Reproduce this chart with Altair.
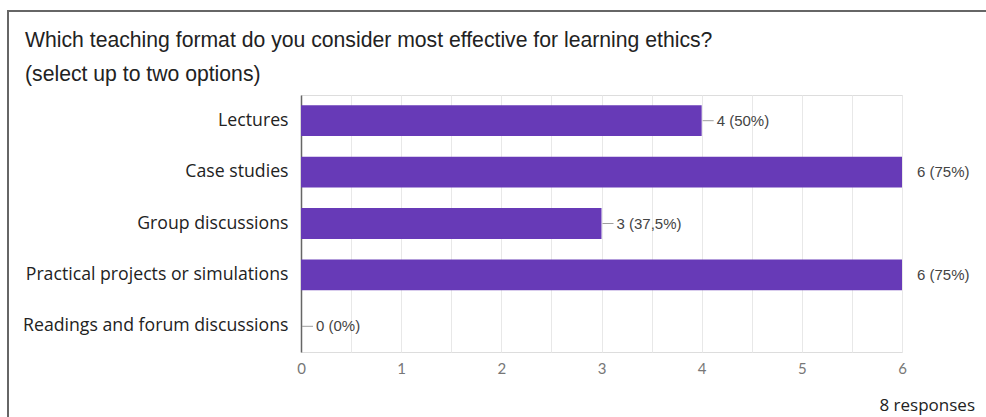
import altair as alt
import pandas as pd

categories = ["Lectures", "Case studies", "Group discussions",
              "Practical projects or simulations", "Readings and forum discussions"]
counts = [4, 6, 3, 6, 0]
labels = ["4 (50%)", "6 (75%)", "3 (37,5%)", "6 (75%)", "0 (0%)"]
x_ticks = [0, 0.5, 1, 1.5, 2, 2.5, 3, 3.5, 4, 4.5, 5, 5.5, 6]
title_line1 = "Which teaching format do you consider most effective for learning ethics?"
title_line2 = "(select up to two options)"
footer = "8 responses"

df = pd.DataFrame({"cat": categories, "n": counts, "label": labels})

PURPLE = "#673ab7"

y_enc = alt.Y("cat:N", sort=categories, title=None,
              scale=alt.Scale(paddingInner=0.4, paddingOuter=0.2),
              axis=alt.Axis(labelFont="Open Sans", labelFontSize=17.7, labelColor="#222",
                            labelPadding=13, ticks=False, domainColor="#666",
                            domainWidth=1.5, labelLimit=400))
x_enc = alt.X("n:Q", title=None, scale=alt.Scale(domain=[0, 6], nice=False),
              axis=alt.Axis(values=x_ticks,
                            labelExpr="datum.value % 1 == 0 ? format(datum.value, 'd') : ''",
                            labelFont="Lato", labelFontSize=15, labelColor="#777",
                            labelPadding=9, ticks=False, domain=False, labelFlush=False,
                            labelOverlap=False, gridColor="#e8e8e8", grid=True))

base = alt.Chart(df)

bars = base.transform_filter("datum.n > 0").mark_bar(color=PURPLE).encode(x=x_enc, y=y_enc)

lines = base.transform_filter("datum.n < 6").mark_rule(
    color="#9e9e9e", strokeWidth=1, xOffset=1, x2Offset=12
).encode(x="n:Q", x2="n:Q", y=alt.Y("cat:N", sort=categories, bandPosition=0.5))

texts = base.mark_text(align="left", baseline="middle", dx=15, font="Liberation Sans",
                       fontSize=15, color="#444").encode(
    x="n:Q", y=alt.Y("cat:N", sort=categories), text="label:N")

frame_df = pd.DataFrame({"k": [0]})
left_border = alt.Chart(frame_df).mark_rule(color="#666", strokeWidth=2).encode(
    x=alt.value(-293), y=alt.value(-84), y2=alt.value(330))
top_border = alt.Chart(frame_df).mark_rule(color="#666", strokeWidth=2).encode(
    x=alt.value(-294), x2=alt.value(700), y=alt.value(-84))

t1 = alt.Chart(frame_df).mark_text(align="left", baseline="alphabetic", font="Liberation Sans",
                                   fontSize=21.2, color="#222").encode(
    x=alt.value(-276), y=alt.value(-48), text=alt.value(title_line1))
t2 = alt.Chart(frame_df).mark_text(align="left", baseline="alphabetic", font="Liberation Sans",
                                   fontSize=21.2, color="#222").encode(
    x=alt.value(-276), y=alt.value(-14), text=alt.value(title_line2))
foot = alt.Chart(frame_df).mark_text(align="right", baseline="alphabetic", font="Open Sans",
                                     fontSize=17, color="#222").encode(
    x=alt.value(674), y=alt.value(316), text=alt.value(footer))

chart = alt.layer(bars, lines, texts, left_border, top_border, t1, t2, foot).properties(
    width=601, height=257,
    autosize=alt.AutoSizeParams(type="none"),
    padding={"left": 301, "top": 95, "right": 84, "bottom": 65},
    background="white",
).configure_view(stroke="#dddddd")

chart.save("out.html", embed_options={"renderer": "svg", "actions": False})
